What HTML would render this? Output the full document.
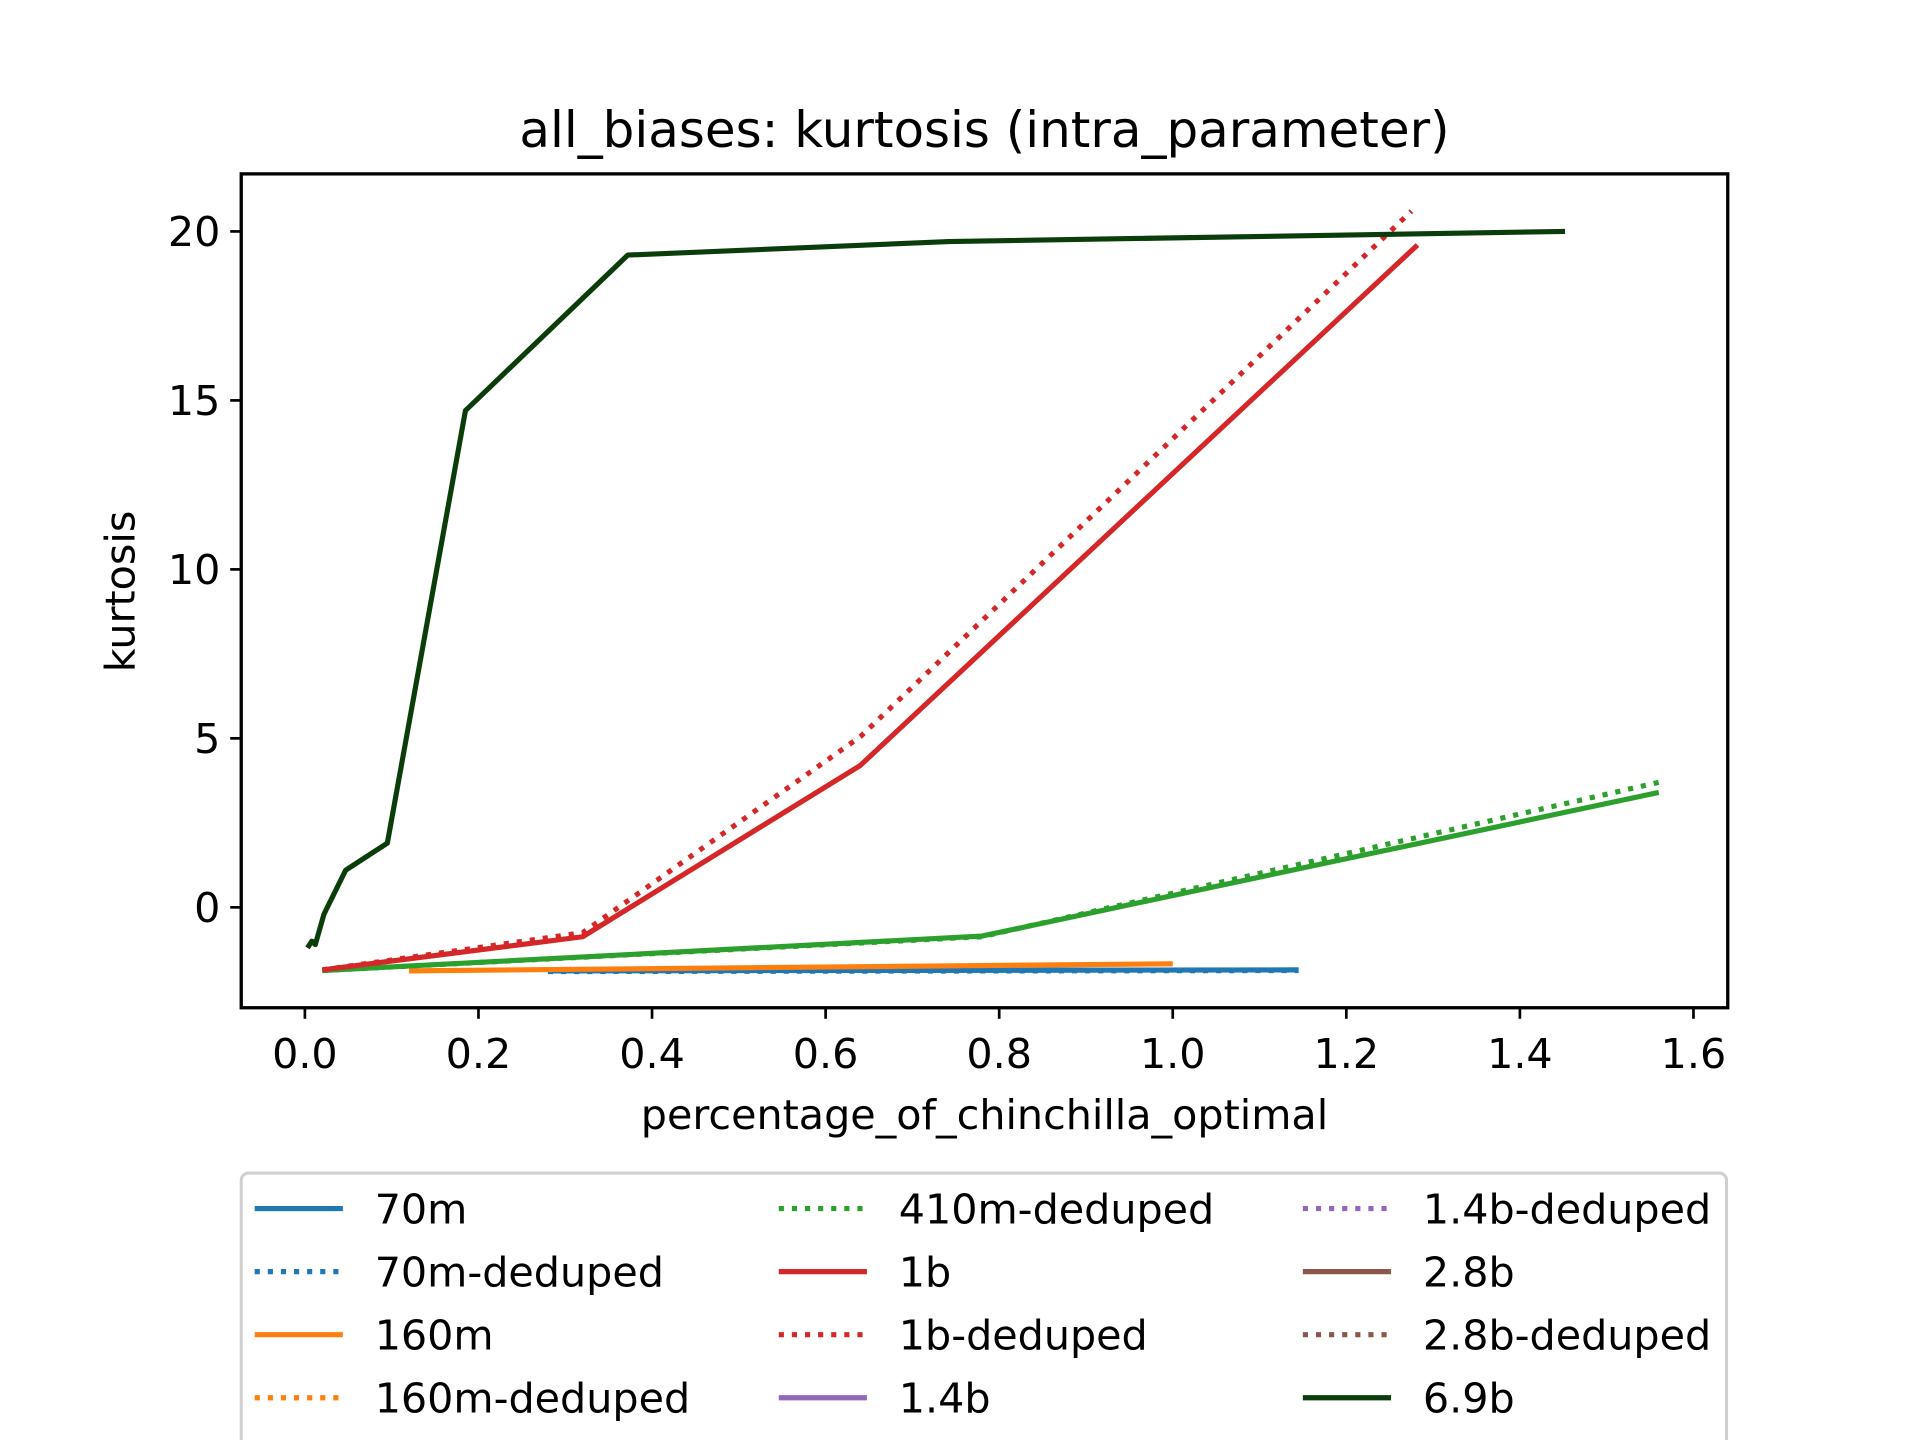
<!DOCTYPE html>
<html><head><meta charset="utf-8"><style>
html,body{margin:0;padding:0;background:#fff;}
svg{display:block;font-family:"DejaVu Sans","Liberation Sans",sans-serif;}
</style></head><body>
<svg id="chart" width="1920" height="1440" viewBox="8 0 1552 1176" xmlns="http://www.w3.org/2000/svg">
<rect x="0" y="0" width="1600" height="1176" fill="#fff"/>
<text x="804" y="120" font-size="40.8" text-anchor="middle" fill="#000">all_biases: kurtosis (intra_parameter)</text>
<g id="plot"></g>
<g id="axes"></g>
<rect x="197" y="142" width="1214" height="681" fill="none" stroke="#000" stroke-width="2.7"/>
<text x="804" y="922" font-size="33.7" text-anchor="middle">percentage_of_chinchilla_optimal</text>
<text transform="translate(110,483) rotate(-90)" font-size="33.7" text-anchor="middle">kurtosis</text>
<g id="legend">
<rect x="197" y="958" width="1213" height="240" rx="6" fill="#fff" stroke="#d0d0d0" stroke-width="2.5"/>
</g>
</svg>
<script>
const xTicks=[0.0,0.2,0.4,0.6,0.8,1.0,1.2,1.4,1.6];
const xTickLabels=["0.0","0.2","0.4","0.6","0.8","1.0","1.2","1.4","1.6"];
const yTicks=[0,5,10,15,20];
const yTickLabels=["0","5","10","15","20"];
const seriesNames=["70m","70m-deduped","160m","160m-deduped","410m-deduped","1b","1b-deduped","1.4b","1.4b-deduped","2.8b","2.8b-deduped","6.9b"];
const seriesColors=["#1f77b4","#1f77b4","#ff7f0e","#ff7f0e","#2ca02c","#d62728","#d62728","#9467bd","#9467bd","#8c564b","#8c564b","#0b3d0b"];
const seriesDotted=[false,true,false,true,true,false,true,false,true,false,true,false];
const x70m=[0.28,1.145]; const y70m=[-1.88,-1.85];
const x70mD=[0.28,1.145]; const y70mD=[-1.9,-1.87];
const x160m=[0.12,1.0]; const y160m=[-1.88,-1.67];
const x410m=[0.02,0.78,1.56]; const y410m=[-1.87,-0.85,3.4];
const x410mD=[0.02,0.78,1.56]; const y410mD=[-1.87,-0.87,3.7];
const x1b=[0.02,0.32,0.64,1.282]; const y1b=[-1.85,-0.87,4.2,19.6];
const x1bD=[0.02,0.32,0.64,1.275]; const y1bD=[-1.85,-0.75,5.05,20.6];
const x69b=[0.003,0.008,0.012,0.022,0.047,0.095,0.185,0.372,0.742,1.452]; const y69b=[-1.2,-1.0,-1.1,-0.2,1.1,1.9,14.7,19.3,19.7,20.0];
const NS="http://www.w3.org/2000/svg";
const X=v=>249+v*708.75, Y=v=>741-v*27.6;
const plot=document.getElementById('plot'), axes=document.getElementById('axes'), legend=document.getElementById('legend');
function mk(tag,attrs,parent){const e=document.createElementNS(NS,tag);for(const k in attrs)e.setAttribute(k,attrs[k]);parent.appendChild(e);return e;}
function line(xs,ys,color,dotted,name){
  const e=mk('polyline',{points:xs.map((x,i)=>X(x)+','+Y(ys[i])).join(' '),fill:'none',stroke:color,'stroke-width':4.2,'stroke-linejoin':'round'},plot);
  if(dotted)e.setAttribute('stroke-dasharray','4.2 6.5');
  
  
}
line(x70mD,y70mD,"#1f77b4",true,'series-70m-deduped');
line(x70m,y70m,"#1f77b4",false,'series-70m');
line(x160m,y160m,"#ff7f0e",false,'series-160m');
line(x410m,y410m,"#2ca02c",false,'series-410m');
line(x410mD,y410mD,"#2ca02c",true,'series-410m-deduped');
line(x1bD,y1bD,"#d62728",true,'series-1b-deduped');
line(x1b,y1b,"#d62728",false,'series-1b');
line(x69b,y69b,"#0b3d0b",false,'series-6.9b');
xTicks.forEach((t,i)=>{
  const l=mk('line',{x1:X(t),x2:X(t),y1:823,y2:832,stroke:'#000','stroke-width':2.2},axes);
  
  
  const tx=mk('text',{x:X(t),y:872,'font-size':33.7,'text-anchor':'middle'},axes);
  tx.textContent=xTickLabels[i];
  
  
});
yTicks.forEach((t,i)=>{
  const l=mk('line',{x1:188,x2:197,y1:Y(t),y2:Y(t),stroke:'#000','stroke-width':2.2},axes);
  
  
  const tx=mk('text',{x:180,y:Y(t)+12,'font-size':33.7,'text-anchor':'end'},axes);
  tx.textContent=yTickLabels[i];
  
  
});
seriesNames.forEach((n,i)=>{
  const col=Math.floor(i/4), row=i%4;
  const hx=208+col*428, ty=987+row*51.5;
  const l=mk('line',{x1:hx,x2:hx+72,y1:ty,y2:ty,stroke:seriesColors[i],'stroke-width':4.2},legend);
  if(seriesDotted[i])l.setAttribute('stroke-dasharray','4.2 6.5');
  
  
  const tx=mk('text',{x:hx+98,y:ty+12,'font-size':33.7},legend);
  tx.textContent=n;
  
  
});
</script>
</body></html>
